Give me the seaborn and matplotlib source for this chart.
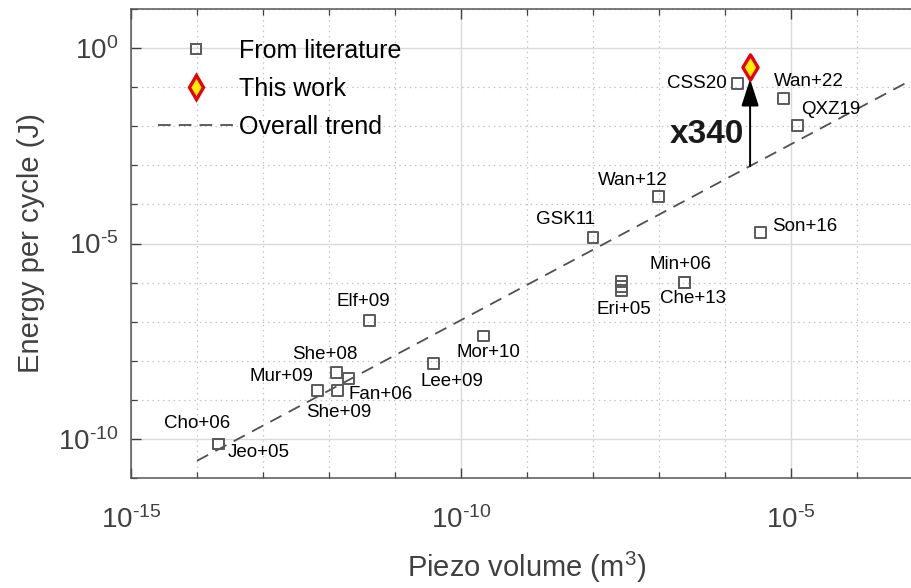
import numpy as np
import pandas as pd
import seaborn as sns
import matplotlib.pyplot as plt
from matplotlib.lines import Line2D
from matplotlib.ticker import FixedLocator, FuncFormatter, NullFormatter

# data (log-log)
lit_labels = ["Cho+06", "Jeo+05", "Mur+09", "She+08", "Fan+06", "She+09", "Elf+09",
              "Lee+09", "Mor+10", "GSK11", "Wan+12", "Eri+05", "", "",
              "Min+06", "Che+13", "CSS20", "Wan+22", "QXZ19", "Son+16"]
lit_volume = [2.1e-14, 2.1e-14, 6.6e-13, 1.3e-12, 2.0e-12, 1.35e-12, 4.1e-12,
              3.8e-11, 2.2e-10, 1.0e-8, 9.8e-8, 2.7e-8, 2.7e-8, 2.7e-8,
              2.4e-7, 2.4e-7, 1.55e-6, 7.6e-6, 1.26e-5, 3.5e-6]
lit_energy = [7.4e-11, 7.4e-11, 1.7e-9, 5.0e-9, 3.5e-9, 1.75e-9, 1.07e-7,
              8.3e-9, 4.3e-8, 1.4e-5, 1.6e-4, 1.05e-6, 7.9e-7, 6.2e-7,
              1.0e-6, 1.0e-6, 0.126, 0.050, 0.0107, 1.9e-5]

this_volume = [2.4e-6]
this_energy = [0.324]
gain = 340

trend_volume = [1e-14, 1e-3]
trend_energy = [2.75e-11, 0.219]

x_ticks = [1e-15, 1e-10, 1e-5]
y_ticks = [1e-10, 1e-5, 1e0]

# label offsets in pixels (dx, dy, ha)
label_pos = {
    "Cho+06": (-21, 21, "center"), "Jeo+05": (9, -8, "left"),
    "Mur+09": (-4, 14, "right"), "She+08": (-12, 18, "center"),
    "Fan+06": (0, -16, "left"), "She+09": (1, -22, "center"),
    "Elf+09": (-6, 19, "center"), "Lee+09": (19, -18, "center"),
    "Mor+10": (5, -17, "center"), "GSK11": (-27, 18, "center"),
    "Wan+12": (-26, 16, "center"), "Eri+05": (2, -28, "center"),
    "Min+06": (-4, 18, "center"), "Che+13": (9, -16, "center"),
    "CSS20": (-11, 0, "right"), "Wan+22": (-9, 17, "left"),
    "QXZ19": (4, 16, "left"), "Son+16": (11, 6, "left"),
}

sns.set_style("ticks")
plt.rcParams["font.family"] = ["Liberation Sans", "DejaVu Sans"]
plt.rcParams["mathtext.fontset"] = "custom"
plt.rcParams["mathtext.rm"] = "Liberation Sans"
plt.rcParams["mathtext.it"] = "Liberation Sans:italic"
plt.rcParams["mathtext.bf"] = "Liberation Sans:bold"
plt.rcParams["axes.unicode_minus"] = False
plt.rcParams["text.color"] = "black"


def pow10(v, pos):
    n = int(round(np.log10(v)))
    if n < 0:
        return "10$^{\\text{-}%d}$" % (-n)
    return "10$^{%d}$" % n


df = pd.DataFrame({"label": lit_labels, "volume": lit_volume, "energy": lit_energy})
tw = pd.DataFrame({"volume": this_volume, "energy": this_energy})
tr = pd.DataFrame({"volume": trend_volume, "energy": trend_energy})

fig = plt.figure(figsize=(9.12, 5.88), dpi=100)
ax = fig.add_axes([131 / 912, 1 - 478 / 588, 792 / 912, 469 / 588])
ax.set_xscale("log")
ax.set_yscale("log")
ax.set_xlim(1e-15, 1e-3)
ax.set_ylim(1e-11, 1e1)

sns.lineplot(data=tr, x="volume", y="energy", ax=ax, color="#505050", lw=1.3,
             label="_nolegend_", zorder=2)
ax.lines[-1].set_dashes((7, 4.5))

sns.scatterplot(data=df, x="volume", y="energy", ax=ax, marker="s", s=62,
                facecolor="none", edgecolor="#5a5a5a", linewidth=1.4, zorder=3,
                legend=False)
sns.scatterplot(data=tw, x="volume", y="energy", ax=ax, marker="d", s=165,
                color="#ffee00", edgecolor="#e8000b", linewidth=2.4, zorder=5,
                legend=False)

for lab, vx, vy in zip(lit_labels, lit_volume, lit_energy):
    if not lab:
        continue
    dx, dy, ha = label_pos[lab]
    ax.annotate(lab, (vx, vy), xytext=(dx, dy), textcoords="offset pixels",
                ha=ha, va="center", fontsize=13.5, color="black", zorder=6)

# improvement arrow from trend line up to this work
base = this_energy[0] / gain
ax.annotate("", xy=(this_volume[0], this_energy[0]),
            xytext=(this_volume[0], base),
            arrowprops=dict(arrowstyle="-|>,head_length=1.4,head_width=0.45",
                            mutation_scale=12, color="black", lw=1.4,
                            shrinkA=0, shrinkB=8.5), zorder=4)
ax.annotate(f"x{gain}", (this_volume[0], base), xytext=(-43, 32),
            textcoords="offset pixels", ha="center", va="center",
            fontsize=24, fontweight="bold", color="#1a1a1a")

# axes styling (MATLAB look)
ax.xaxis.set_major_locator(FixedLocator(x_ticks))
ax.yaxis.set_major_locator(FixedLocator(y_ticks))
ax.xaxis.set_minor_locator(FixedLocator([10.0 ** k for k in range(-15, -2)]))
ax.yaxis.set_minor_locator(FixedLocator([10.0 ** k for k in range(-11, 2)]))
ax.xaxis.set_major_formatter(FuncFormatter(pow10))
ax.yaxis.set_major_formatter(FuncFormatter(pow10))
ax.xaxis.set_minor_formatter(NullFormatter())
ax.yaxis.set_minor_formatter(NullFormatter())
ax.grid(which="minor", color="#c4c4c4", linestyle=(0, (1.2, 3)), lw=0.9)
ax.grid(which="major", color="#dadada", linestyle="-", lw=1.0)
ax.set_axisbelow(True)
ax.tick_params(which="both", direction="in", top=True, right=True, colors="#404040")
ax.tick_params(which="major", length=7, width=1.0, labelsize=20, labelcolor="#404040")
ax.tick_params(axis="x", which="major", pad=20)
ax.tick_params(axis="y", which="major", pad=9)
ax.tick_params(which="minor", length=4, width=0.9)
for sp in ax.spines.values():
    sp.set_color("#555555")
    sp.set_linewidth(1.1)

ax.set_xlabel("Piezo volume (m$^{3}$)", fontsize=21, color="#404040", labelpad=12)
ax.set_ylabel("Energy per cycle (J)", fontsize=21, color="#404040", labelpad=9)

# legend
handles = [
    Line2D([], [], ls="none", marker="s", ms=7.5, mfc="none", mec="#5a5a5a", mew=1.4),
    Line2D([], [], ls="none", marker="d", ms=12, mfc="#ffee00", mec="#e8000b", mew=2.4),
    Line2D([], [], color="#505050", lw=1.3, dashes=(7, 4.5)),
]
ax.legend(handles, ["From literature", "This work", "Overall trend"],
          loc="upper left", bbox_to_anchor=(27 / 792, 1 - 30 / 469),
          frameon=False, fontsize=18, handlelength=3.0, handletextpad=0.25,
          labelspacing=0.55, borderpad=0, borderaxespad=0)

fig.savefig("out.png", dpi=100)
